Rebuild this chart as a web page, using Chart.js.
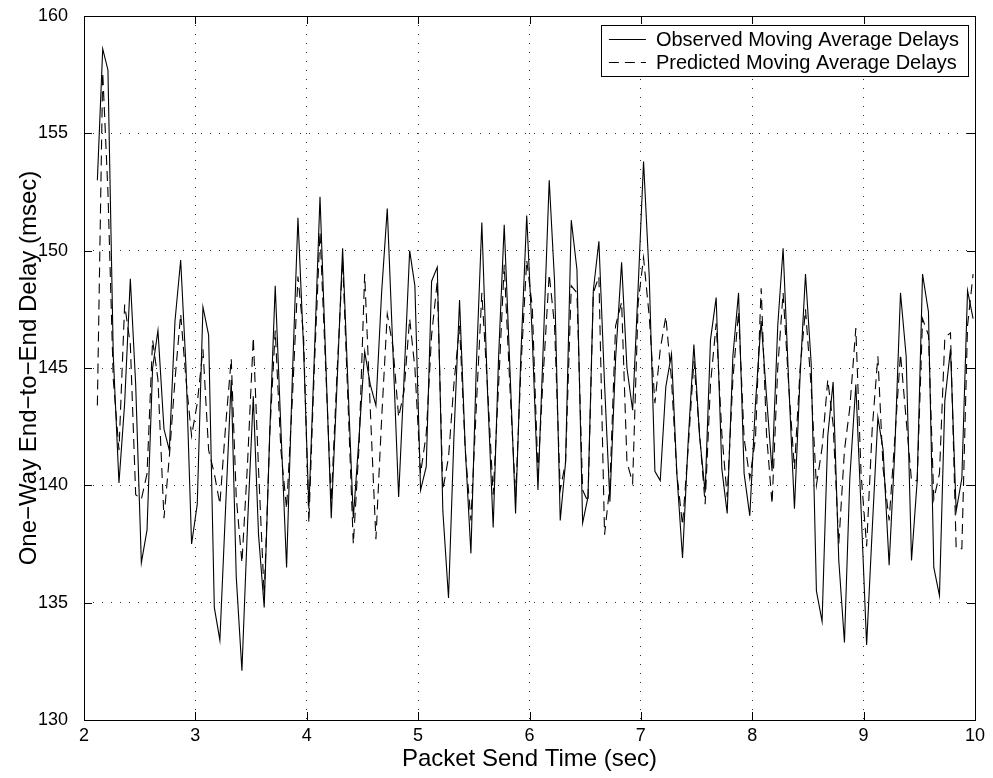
<!DOCTYPE html>
<html>
<head>
<meta charset="utf-8">
<script src="https://cdn.jsdelivr.net/npm/chart.js@4/dist/chart.umd.min.js"></script>
<style>
  html, body { margin: 0; padding: 0; background: #fff; }
  #wrap { width: 993px; height: 778px; position: relative; }
</style>
</head>
<body>
<div id="wrap"><canvas id="c"></canvas></div>
<script>
// ---- data ----
const sendTimes = [
  2.120, 2.168, 2.215, 2.263, 2.314, 2.365, 2.416, 2.464, 2.515, 2.566,
  2.616, 2.664, 2.718, 2.766, 2.817, 2.868, 2.916, 2.966, 3.017, 3.068,
  3.119, 3.170, 3.220, 3.271, 3.322, 3.367, 3.418, 3.469, 3.520, 3.567,
  3.618, 3.669, 3.717, 3.768, 3.819, 3.870, 3.921, 3.971, 4.019, 4.068,
  4.119, 4.170, 4.220, 4.271, 4.322, 4.370, 4.418, 4.469, 4.520, 4.570,
  4.621, 4.672, 4.723, 4.774, 4.825, 4.873, 4.924, 4.971, 5.022, 5.073,
  5.121, 5.172, 5.222, 5.273, 5.321, 5.372, 5.423, 5.474, 5.522, 5.572,
  5.623, 5.674, 5.722, 5.773, 5.824, 5.875, 5.923, 5.975, 6.025, 6.076,
  6.127, 6.177, 6.225, 6.276, 6.324, 6.375, 6.426, 6.477, 6.525, 6.573,
  6.623, 6.674, 6.722, 6.773, 6.827, 6.875, 6.926, 6.976, 7.024, 7.075,
  7.126, 7.174, 7.224, 7.275, 7.323, 7.374, 7.425, 7.476, 7.527, 7.577,
  7.625, 7.676, 7.727, 7.775, 7.826, 7.877, 7.927, 7.978, 8.029, 8.080,
  8.128, 8.178, 8.229, 8.277, 8.328, 8.379, 8.430, 8.478, 8.529, 8.576,
  8.627, 8.678, 8.726, 8.777, 8.828, 8.876, 8.930, 8.977, 9.027, 9.077,
  9.128, 9.175, 9.229, 9.280, 9.331, 9.382, 9.430, 9.481, 9.529, 9.582,
  9.630, 9.681, 9.729, 9.780, 9.831, 9.882, 9.933, 9.983
];

const observedDelays = [
  153.0, 158.6, 157.7, 145.5, 140.1, 143.5, 148.8, 144.3, 136.7, 138.1,
  145.0, 146.6, 142.4, 141.5, 147.0, 149.6, 145.0, 137.5, 139.2, 147.6,
  146.4, 134.8, 133.4, 139.0, 144.5, 136.1, 132.1, 138.4, 143.8, 137.9,
  134.8, 142.4, 148.5, 142.4, 136.5, 144.5, 151.4, 145.9, 139.0, 145.5,
  152.3, 145.4, 138.6, 144.2, 150.1, 144.3, 138.6, 142.0, 145.7, 144.3,
  143.4, 148.2, 151.8, 145.7, 139.5, 144.5, 150.0, 148.5, 139.8, 140.8,
  148.7, 149.3, 138.9, 135.2, 142.0, 147.9, 141.6, 137.1, 145.0, 151.2,
  144.0, 138.2, 145.4, 151.1, 145.0, 138.8, 145.6, 151.5, 146.3, 139.8,
  146.4, 153.0, 148.7, 138.5, 141.0, 151.3, 149.2, 138.4, 139.5, 148.3,
  150.4, 144.3, 139.3, 145.4, 149.5, 145.0, 143.2, 148.5, 153.8, 148.9,
  140.6, 140.2, 144.2, 145.6, 140.5, 136.9, 141.9, 146.0, 142.1, 139.7,
  146.2, 148.0, 140.7, 138.8, 145.5, 148.2, 140.5, 138.7, 143.5, 147.0,
  143.8, 140.6, 146.8, 150.1, 144.3, 139.0, 144.7, 149.0, 145.2, 135.5,
  134.2, 142.1, 144.4, 136.8, 133.3, 140.3, 144.3, 139.0, 133.2, 138.1,
  142.9, 141.5, 136.6, 141.5, 148.2, 145.5, 136.8, 140.2, 149.0, 147.4,
  136.5, 135.3, 143.6, 145.8, 138.9, 140.3, 148.3, 147.1
];

const predictedDelays = [
  143.4, 157.6, 152.5, 144.5, 141.5, 147.7, 146.0, 139.6, 139.4, 140.5,
  146.2, 144.5, 138.6, 141.2, 144.5, 147.3, 144.5, 142.1, 143.5, 145.8,
  141.5, 140.5, 139.2, 142.5, 145.4, 139.5, 136.7, 141.0, 146.3, 140.7,
  135.3, 142.3, 146.6, 141.5, 139.0, 143.6, 148.9, 146.4, 138.4, 145.0,
  150.8, 145.0, 139.3, 144.7, 149.6, 143.6, 137.5, 141.6, 149.0, 143.3,
  137.7, 142.8, 147.3, 145.9, 142.9, 144.0, 147.1, 145.0, 140.5, 142.2,
  146.4, 148.7, 139.8, 141.2, 144.3, 146.8, 141.5, 138.5, 143.3, 148.2,
  144.2, 139.6, 144.2, 149.4, 144.2, 139.5, 145.0, 149.6, 147.6, 140.5,
  145.0, 149.0, 146.8, 139.8, 141.0, 148.5, 148.2, 139.8, 139.3, 148.2,
  148.9, 137.9, 140.0, 146.8, 147.8, 141.0, 140.1, 147.8, 149.7, 147.2,
  143.5, 145.8, 147.2, 144.5, 140.5, 138.3, 141.6, 145.3, 142.2, 139.2,
  144.3, 146.9, 142.2, 139.5, 144.5, 147.4, 142.0, 140.3, 142.0, 148.4,
  142.2, 139.2, 145.0, 148.2, 144.2, 140.7, 145.0, 147.5, 144.2, 140.0,
  141.6, 144.5, 142.6, 137.5, 141.5, 143.3, 146.7, 140.5, 137.4, 142.4,
  145.5, 140.7, 138.5, 142.0, 145.6, 142.8, 140.2, 140.2, 147.1, 146.4,
  139.4, 140.5, 146.3, 146.5, 137.3, 137.3, 146.8, 149.0
];

const seriesLabels = ['Observed Moving Average Delays', 'Predicted Moving Average Delays'];
const xAxisTitle = 'Packet Send Time (sec)';
const yAxisTitle = 'One\u2212Way End\u2212to\u2212End Delay (msec)';
const xRange = [2, 10];
const yRange = [130, 160];
const xStep = 1;
const yStep = 5;

// ---- styling ----
const FONT = "'Liberation Sans', Arial, Helvetica, sans-serif";
const DASH = [10, 6];

const toPoints = (ys) => sendTimes.map((t, i) => ({ x: t, y: ys[i] }));

const framePlugin = {
  id: 'frameAndTicks',
  afterDatasetsDraw(chart) {
    const { ctx, chartArea: a, scales } = chart;
    ctx.save();
    ctx.strokeStyle = '#000';
    ctx.lineWidth = 1;
    ctx.setLineDash([]);
    ctx.strokeRect(Math.round(a.left) + 0.5, Math.round(a.top) + 0.5,
                   Math.round(a.right - a.left), Math.round(a.bottom - a.top));
    const TL = 8;
    ctx.beginPath();
    scales.x.ticks.forEach(t => {
      const px = Math.round(scales.x.getPixelForValue(t.value)) + 0.5;
      ctx.moveTo(px, a.bottom); ctx.lineTo(px, a.bottom - TL);
      ctx.moveTo(px, a.top); ctx.lineTo(px, a.top + TL);
    });
    scales.y.ticks.forEach(t => {
      const py = Math.round(scales.y.getPixelForValue(t.value)) + 0.5;
      ctx.moveTo(a.left, py); ctx.lineTo(a.left + TL, py);
      ctx.moveTo(a.right, py); ctx.lineTo(a.right - TL, py);
    });
    ctx.stroke();
    ctx.restore();
  },
  afterDraw(chart) {
    const { ctx, chartArea: a } = chart;
    ctx.save();
    ctx.font = '20px ' + FONT;
    const textW = Math.max(...chart.data.datasets.map(d => ctx.measureText(d.label).width));
    const w = 55 + textW + 9;
    const h = 51;
    const right = a.right - 7;
    const top = a.top + 9;
    const left = right - w;
    ctx.fillStyle = '#fff';
    ctx.fillRect(left, top, w, h);
    ctx.strokeStyle = '#000';
    ctx.lineWidth = 1;
    ctx.setLineDash([]);
    ctx.strokeRect(Math.round(left) + 0.5, Math.round(top) + 0.5, Math.round(w), h);
    chart.data.datasets.forEach((d, i) => {
      const cy = Math.round(top + 13.5 + i * 23) + 0.5;
      ctx.beginPath();
      ctx.setLineDash(d.borderDash || []);
      ctx.lineWidth = 1.1;
      ctx.moveTo(left + 8, cy);
      ctx.lineTo(left + 45, cy);
      ctx.stroke();
      ctx.setLineDash([]);
      ctx.fillStyle = '#000';
      ctx.textBaseline = 'middle';
      ctx.textAlign = 'left';
      ctx.fillText(d.label, left + 55, cy + 1);
    });
    ctx.restore();
  }
};

new Chart(document.getElementById('c'), {
  type: 'line',
  data: {
    datasets: [
      {
        label: seriesLabels[0],
        data: toPoints(observedDelays),
        borderColor: '#000',
        borderWidth: 1.1,
        pointRadius: 0,
        tension: 0,
        fill: false,
        order: 1
      },
      {
        label: seriesLabels[1],
        data: toPoints(predictedDelays),
        borderColor: '#000',
        borderWidth: 1.1,
        borderDash: DASH,
        pointRadius: 0,
        tension: 0,
        fill: false,
        order: 0
      }
    ]
  },
  options: {
    responsive: true,
    maintainAspectRatio: false,
    animation: false,
    events: [],
    layout: { padding: { top: 16, right: 18, left: 0, bottom: 0 } },
    plugins: {
      legend: { display: false },
      tooltip: { enabled: false },
      title: { display: false }
    },
    scales: {
      x: {
        type: 'linear',
        min: xRange[0],
        max: xRange[1],
        afterFit(s) { s.height = 58; s.paddingLeft = 0; s.paddingRight = 0; },
        ticks: {
          stepSize: xStep,
          color: '#000',
          font: { family: FONT, size: 18 },
          padding: 5,
          maxRotation: 0
        },
        grid: {
          color: (c) => (c.tick && (c.tick.value === xRange[0] || c.tick.value === xRange[1])) ? 'rgba(0,0,0,0)' : 'rgba(0,0,0,0.8)',
          lineWidth: 1,
          drawTicks: false
        },
        border: { display: false, dash: [1, 8] },
        title: {
          display: true,
          text: xAxisTitle,
          color: '#000',
          font: { family: FONT, size: 24 },
          padding: { top: 0, bottom: 4 }
        }
      },
      y: {
        type: 'linear',
        min: yRange[0],
        max: yRange[1],
        afterFit(s) { s.width = 84; s.paddingTop = 0; s.paddingBottom = 0; },
        ticks: {
          stepSize: yStep,
          color: '#000',
          font: { family: FONT, size: 18 },
          padding: 16
        },
        grid: {
          color: (c) => (c.tick && (c.tick.value === yRange[0] || c.tick.value === yRange[1])) ? 'rgba(0,0,0,0)' : 'rgba(0,0,0,0.8)',
          lineWidth: 1,
          drawTicks: false
        },
        border: { display: false, dash: [1, 8] },
        title: {
          display: true,
          text: yAxisTitle,
          color: '#000',
          font: { family: FONT, size: 24 },
          padding: { top: 15, bottom: 0 }
        }
      }
    }
  },
  plugins: [framePlugin]
});
</script>
</body>
</html>
